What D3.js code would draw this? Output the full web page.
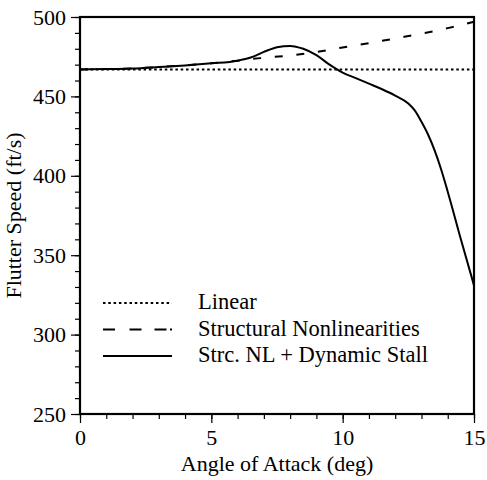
<!DOCTYPE html>
<html lang="en">
<head>
<meta charset="UTF-8">
<title>Flutter Speed vs Angle of Attack</title>
<script src="https://d3js.org/d3.v7.min.js"></script>
<style>
  body { margin: 0; background: #fff; }
  text { font-family: "Liberation Serif", "Times New Roman", serif; fill: #000; }
</style>
</head>
<body>
<div id="chart"></div>
<script>
// data
const linearAngle = [0, 15];
const linearSpeed = [467, 467];

const structAngle = [0, 1, 2, 3, 4, 5, 6, 6.5, 7, 8, 9, 10, 11, 12, 13, 14, 15];
const structSpeed = [467, 467.2, 467.6, 468.5, 469.5, 470.8, 472.5, 473.5, 474.3, 475.8, 478, 480.8, 483.5, 486.5, 489.5, 493, 497];

const stallAngle = [0, 1, 2, 3, 4, 5, 6, 6.5, 7, 7.5, 8, 8.5, 9, 9.5, 10, 10.5, 11, 11.5, 12, 12.5, 12.75, 13, 13.25, 13.5, 13.75, 14, 14.5, 15];
const stallSpeed = [467, 467.2, 467.6, 468.5, 469.5, 470.8, 472.5, 474.5, 478, 481, 481.8, 480, 476, 470, 465, 461.5, 458, 454.5, 450.5, 445.5, 441, 434, 426, 416, 404, 390, 360, 331];

const xMajor = [0, 5, 10, 15];
const yMajor = [250, 300, 350, 400, 450, 500];

const legendLabels = ["Linear", "Structural Nonlinearities", "Strc. NL + Dynamic Stall"];

const width = 487, height = 480;
const svg = d3.select("#chart").append("svg")
    .attr("width", width)
    .attr("height", height);

const x = d3.scaleLinear().domain([0, 15]).range([80, 474]);
const y = d3.scaleLinear().domain([250, 500]).range([414, 17]);

// minor ticks
svg.append("g")
    .attr("transform", `translate(0,${y(250)})`)
    .call(d3.axisBottom(x).tickValues(d3.range(0, 16, 1)).tickSize(5).tickFormat(""))
    .call(g => g.select(".domain").remove())
    .selectAll("line").attr("stroke-width", 1.2);
svg.append("g")
    .attr("transform", `translate(${x(0)},0)`)
    .call(d3.axisLeft(y).tickValues(d3.range(250, 501, 10)).tickSize(5).tickFormat(""))
    .call(g => g.select(".domain").remove())
    .selectAll("line").attr("stroke-width", 1.2);

// major ticks + labels
const xAxis = svg.append("g")
    .attr("transform", `translate(0,${y(250)})`)
    .call(d3.axisBottom(x).tickValues(xMajor).tickSize(9).tickPadding(6).tickFormat(d3.format("d")));
xAxis.select(".domain").remove();
xAxis.selectAll("line").attr("stroke-width", 1.2);
xAxis.selectAll("text").attr("font-size", 22).attr("font-family", "Liberation Serif");

const yAxis = svg.append("g")
    .attr("transform", `translate(${x(0)},0)`)
    .call(d3.axisLeft(y).tickValues(yMajor).tickSize(9).tickPadding(5).tickFormat(d3.format("d")));
yAxis.select(".domain").remove();
yAxis.selectAll("line").attr("stroke-width", 1.2);
yAxis.selectAll("text").attr("font-size", 22).attr("font-family", "Liberation Serif");

// frame
svg.append("rect")
    .attr("x", x(0)).attr("y", y(500))
    .attr("width", x(15) - x(0)).attr("height", y(250) - y(500))
    .attr("fill", "none").attr("stroke", "#000").attr("stroke-width", 2.2);

// lines
const line = d3.line()
    .x(d => x(d[0]))
    .y(d => y(d[1]))
    .curve(d3.curveMonotoneX);

svg.append("path")
    .datum(d3.zip(linearAngle, linearSpeed))
    .attr("d", line)
    .attr("fill", "none").attr("stroke", "#000")
    .attr("stroke-width", 2).attr("stroke-dasharray", "2.5,2.8");

svg.append("path")
    .datum(d3.zip(structAngle, structSpeed))
    .attr("d", line)
    .attr("fill", "none").attr("stroke", "#000")
    .attr("stroke-width", 2).attr("stroke-dasharray", "8,13.7");

svg.append("path")
    .datum(d3.zip(stallAngle, stallSpeed))
    .attr("d", line)
    .attr("fill", "none").attr("stroke", "#000")
    .attr("stroke-width", 2);

// legend
const dashes = ["2.5,2.8", "12,14.5,12,13,12,3.5,2,50", null];
const legend = svg.append("g");
legendLabels.forEach((lab, i) => {
  const ly = 303 + i * 26.5;
  legend.append("line")
      .attr("x1", 103).attr("x2", 172)
      .attr("y1", ly).attr("y2", ly)
      .attr("stroke", "#000").attr("stroke-width", 2)
      .attr("stroke-dasharray", dashes[i]);
  legend.append("text")
      .attr("x", 198).attr("y", ly + 6)
      .attr("font-size", 22.5)
      .text(lab);
});

// axis titles
svg.append("text")
    .attr("x", (x(0) + x(15)) / 2).attr("y", 471)
    .attr("text-anchor", "middle")
    .attr("font-size", 22)
    .text("Angle of Attack (deg)");

svg.append("text")
    .attr("transform", `translate(21,${(y(250) + y(500)) / 2}) rotate(-90)`)
    .attr("text-anchor", "middle")
    .attr("font-size", 22)
    .text("Flutter Speed (ft/s)");
</script>
</body>
</html>
